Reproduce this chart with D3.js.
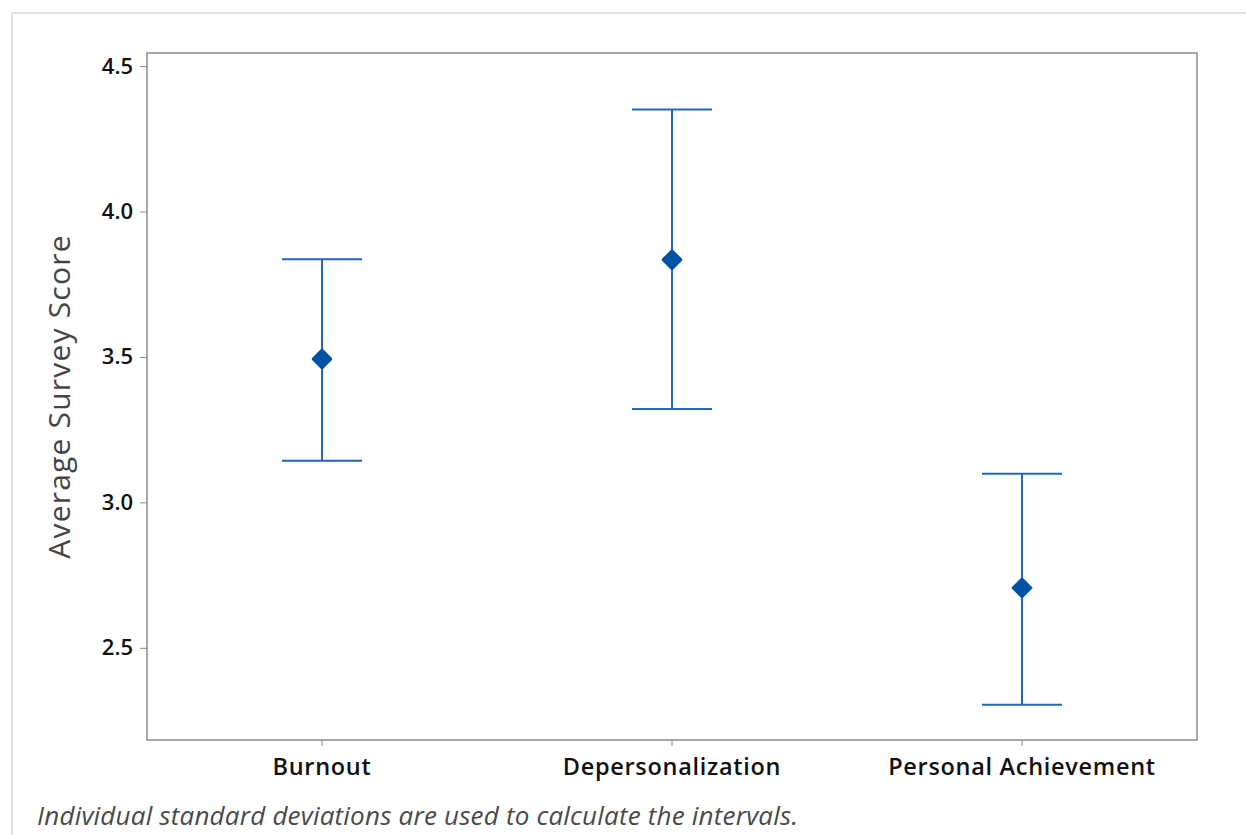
<!DOCTYPE html>
<html>
<head>
<meta charset="utf-8">
<script src="https://cdn.jsdelivr.net/npm/d3@7"></script>
<style>
  body { margin: 0; background: #fff; }
  svg { display: block; font-family: 'Open Sans', 'Noto Sans', sans-serif; }
</style>
</head>
<body>
<div id="chart"></div>
<script>
// interval plot values
const categories = ['Burnout', 'Depersonalization', 'Personal Achievement'];
const means = [3.493, 3.834, 2.706];
const lower = [3.143, 3.321, 2.304];
const upper = [3.836, 4.351, 3.098];
const yTicks = [2.5, 3.0, 3.5, 4.0, 4.5];

const width = 1246;
const height = 835;
const frame = { left: 147, top: 53, right: 1197, bottom: 740 };

const svg = d3.select('#chart').append('svg')
  .attr('width', width)
  .attr('height', height);

// light outer border of the page panel
svg.append('path')
  .attr('d', `M12,${height} V13 H${width}`)
  .attr('fill', 'none')
  .attr('stroke', '#e2e2e2')
  .attr('stroke-width', 2);

const x = d3.scaleBand()
  .domain(categories)
  .range([frame.left, frame.right]);

const y = d3.scaleLinear()
  .domain([2.183, 4.545])
  .range([frame.bottom, frame.top]);

// plot box
svg.append('rect')
  .attr('x', frame.left)
  .attr('y', frame.top)
  .attr('width', frame.right - frame.left)
  .attr('height', frame.bottom - frame.top)
  .attr('fill', 'none')
  .attr('stroke', '#8a8a8a')
  .attr('stroke-width', 1.5);

const yAxis = svg.append('g')
  .attr('transform', `translate(${frame.left},0)`)
  .call(d3.axisLeft(y).tickValues(yTicks).tickSize(7).tickPadding(7).tickFormat(d3.format('.1f')));
yAxis.select('.domain').remove();
yAxis.selectAll('line').attr('stroke', '#8a8a8a');
yAxis.selectAll('text')
  .attr('fill', '#111')
  .attr('font-size', 22)
  .attr('font-weight', 600)
  .attr('font-family', "'Open Sans', sans-serif");

const xAxis = svg.append('g')
  .attr('transform', `translate(0,${frame.bottom})`)
  .call(d3.axisBottom(x).tickSize(6).tickPadding(12));
xAxis.select('.domain').remove();
xAxis.selectAll('line').attr('stroke', '#8a8a8a');
xAxis.selectAll('text')
  .attr('fill', '#111')
  .attr('font-size', 23.5)
  .attr('font-weight', 600)
  .attr('letter-spacing', 0.7)
  .attr('font-family', "'Open Sans', sans-serif");

// y axis title
svg.append('text')
  .attr('transform', `translate(70,${(frame.top + frame.bottom) / 2}) rotate(-90)`)
  .attr('text-anchor', 'middle')
  .attr('fill', '#444')
  .attr('font-size', 30)
  .attr('letter-spacing', 1.2)
  .text('Average Survey Score');

// intervals
const rows = categories.map((c, i) => ({ c, mean: means[i], lo: lower[i], hi: upper[i] }));
const cx = d => x(d.c) + x.bandwidth() / 2;
const capHalf = 40;
const lineColor = '#2466b8';

const bars = svg.append('g').attr('class', 'intervals');
bars.selectAll('line.stem')
  .data(rows)
  .enter().append('line')
  .attr('class', 'stem')
  .attr('x1', cx).attr('x2', cx)
  .attr('y1', d => y(d.hi)).attr('y2', d => y(d.lo))
  .attr('stroke', lineColor)
  .attr('stroke-width', 2);

['hi', 'lo'].forEach((k) => {
  bars.selectAll(`line.cap-${k}`)
    .data(rows)
    .enter().append('line')
    .attr('class', `cap-${k}`)
    .attr('x1', d => cx(d) - capHalf).attr('x2', d => cx(d) + capHalf)
    .attr('y1', d => y(d[k])).attr('y2', d => y(d[k]))
    .attr('stroke', lineColor)
    .attr('stroke-width', 2);
});

// mean markers: rounded diamonds
bars.selectAll('path.mean')
  .data(rows)
  .enter().append('path')
  .attr('class', 'mean')
  .attr('transform', d => `translate(${cx(d)},${y(d.mean)})`)
  .attr('d', 'M0,-8.5 L8.5,0 L0,8.5 L-8.5,0 Z')
  .attr('fill', '#0052a5')
  .attr('stroke', '#0052a5')
  .attr('stroke-width', 3.5)
  .attr('stroke-linejoin', 'round');

// footnote
svg.append('text')
  .attr('x', 37)
  .attr('y', 825)
  .attr('fill', '#4a4a4a')
  .attr('font-size', 26)
  .attr('font-style', 'italic')
  .attr('letter-spacing', 0.2)
  .text('Individual standard deviations are used to calculate the intervals.');
</script>
</body>
</html>
